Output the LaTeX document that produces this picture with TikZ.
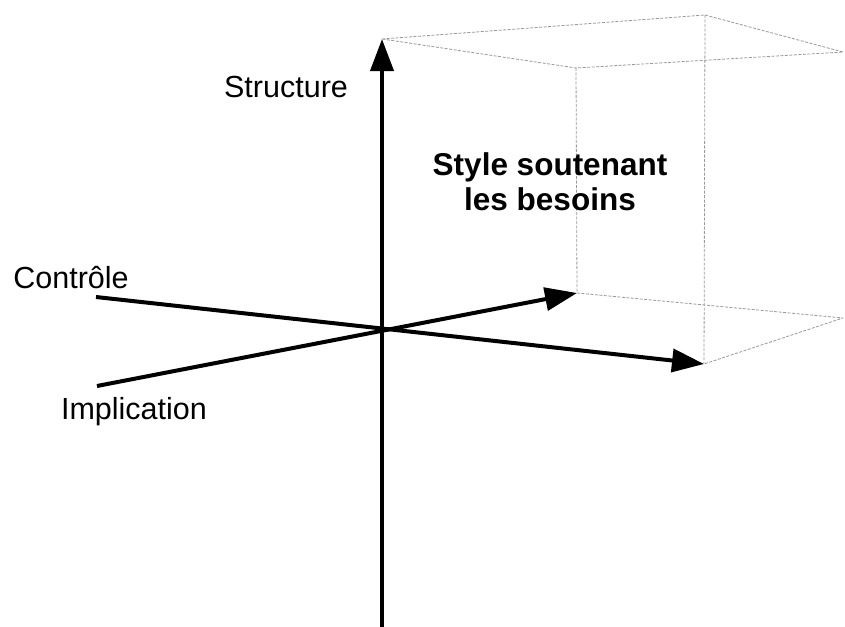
\documentclass[tikz,border=0pt]{standalone}
\usepackage{fontspec}
\setmainfont{Liberation Sans}
\usetikzlibrary{arrows.meta}
\begin{document}
\begin{tikzpicture}[x=1pt,y=-1pt,
  axis/.style={line width=4pt,-{Triangle[length=32pt,width=23pt]}},
  boxline/.style={draw=black!40,line width=0.8pt,dash pattern=on 3pt off 1.5pt,line join=round},
  lbl/.style={anchor=base,inner sep=0pt,font=\fontsize{30.5}{36}\selectfont},
  blbl/.style={anchor=base,inner sep=0pt,align=center,font=\fontsize{31.5}{35}\selectfont\bfseries}]
\useasboundingbox (0,0) rectangle (845,626);
% corners
\coordinate (O) at (382,330);
\coordinate (vbot) at (382,630);
\coordinate (vtop) at (382,39);
\coordinate (cstart) at (96,297);
\coordinate (ctip) at (704,364);
\coordinate (istart) at (97,386);
\coordinate (itip) at (577,293);
\coordinate (tback) at (705,15);
\coordinate (tright) at (843,52);
\coordinate (tfront) at (576,68);
\coordinate (bright) at (843,318);
% dashed box
\draw[boxline] (vtop) -- (tback) -- (tright) -- (tfront) -- cycle;
\draw[boxline] (tfront) -- (itip);
\draw[boxline] (tback) -- (ctip);
\draw[boxline] (itip) -- (bright) -- (ctip);
% axes
\draw[axis] (vbot) -- (vtop);
\draw[axis] (cstart) -- (ctip);
\draw[axis] (istart) -- (itip);
% labels
\node[lbl] (structure) at (286,97) {Structure};
\node[lbl] (controle) at (71,288) {Contrôle};
\node[lbl] (implication) at (134,419) {Implication};
\node[blbl] (style1) at (550,175) {Style soutenant};
\node[blbl] (style2) at (550,210) {les besoins};
\end{tikzpicture}
\end{document}
